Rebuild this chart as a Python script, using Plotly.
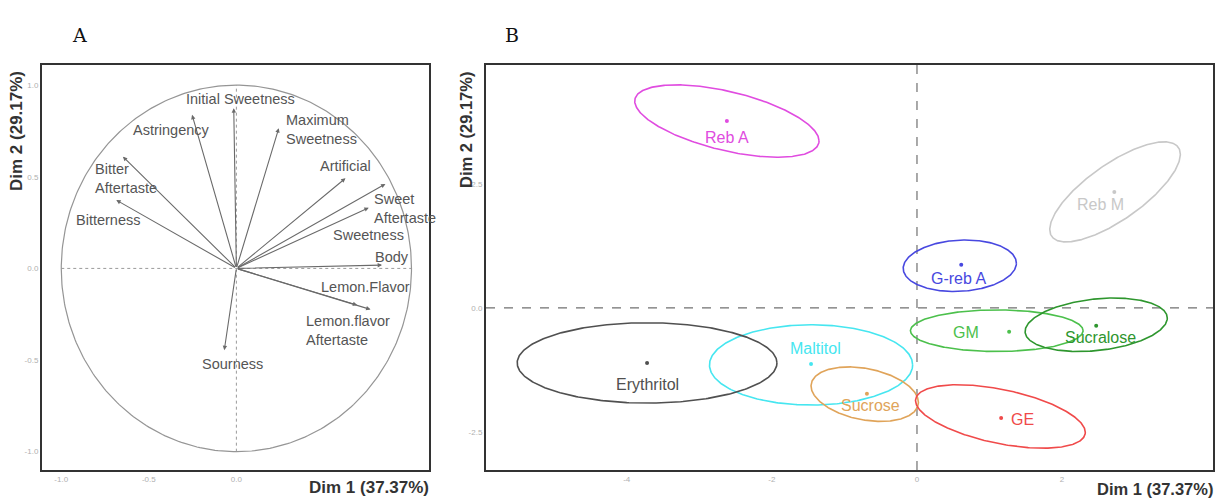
import numpy as np
import plotly.graph_objects as go

# ---------------- Data ----------------
# Panel A: variables (correlation circle)
variables = ["Initial Sweetness", "Astringency", "Maximum<br>Sweetness", "Artificial",
             "Sweet<br>Aftertaste", "Sweetness", "Body", "Lemon.Flavor",
             "Lemon.flavor<br>Aftertaste", "Sourness", "Bitter<br>Aftertaste", "Bitterness"]
dim1_var = [-0.015, -0.253, 0.242, 0.623, 0.851, 0.756, 0.832, 0.766, 0.690, -0.069, -0.648, -0.686]
dim2_var = [0.874, 0.838, 0.765, 0.492, 0.461, 0.331, 0.018, -0.224, -0.200, -0.446, 0.610, 0.373]

# Panel B: sweeteners (individuals with confidence ellipses)
sweeteners = ["Reb A", "Reb M", "G-reb A", "GM", "Sucralose", "Maltitol", "Erythritol", "Sucrose", "GE"]
dim1_ind = [-2.62, 2.72, 0.61, 1.27, 2.47, -1.46, -3.72, -0.69, 1.16]
dim2_ind = [3.77, 2.34, 0.87, -0.48, -0.36, -1.13, -1.11, -1.73, -2.22]
ell_cx = [-2.62, 2.73, 0.59, 1.10, 2.47, -1.46, -3.72, -0.72, 1.15]
ell_cy = [3.77, 2.34, 0.85, -0.46, -0.34, -1.15, -1.11, -1.74, -2.19]
ell_rx = [1.27, 0.90, 0.78, 1.19, 0.98, 1.40, 1.79, 0.74, 1.17]
ell_ry = [0.73, 1.01, 0.52, 0.42, 0.54, 0.81, 0.81, 0.55, 0.64]
ell_rho = [-0.55, 0.75, 0.10, 0.0, 0.25, 0.0, 0.0, -0.30, -0.50]

# tick labels
a_xticks = [-1.0, -0.5, 0.0]
a_xticktext = ["-1.0", "-0.5", "0.0"]
a_yticks = [1.0, 0.5, 0.0, -0.5, -1.0]
a_yticktext = ["1.0", "0.5", "0.0", "-0.5", "-1.0"]
b_xticks = [-4, -2, 0, 2]
b_xticktext = ["-4", "-2", "0", "2"]
b_yticks = [2.5, 0.0, -2.5]
b_yticktext = ["2.5", "0.0", "-2.5"]

# ---------------- Styling / layout positions ----------------
W, H = 1222, 501
colors = ["#E04CE0", "#C8C8C8", "#4848E0", "#4CC04C", "#2E962E", "#46E6F0", "#505050", "#E0A45A", "#F04A4A"]
# pixel offsets of each individual's label from its point (dx right, dy down)
b_label_shift = [(0, 16), (-14, 13), (-3, 14), (-43, 1), (4, 12), (4, -15), (0, 22), (4, 12), (21, 2)]
# label anchors for panel A (x, y, xanchor)
a_label_pos = [(0.023, 0.924, "center"), (-0.368, 0.756, "center"), (0.270, 0.758, "left"),
               (0.623, 0.559, "center"), (0.775, 0.326, "left"), (0.756, 0.182, "center"),
               (0.890, 0.064, "center"), (0.737, -0.100, "center"), (0.389, -0.341, "left"),
               (-0.025, -0.519, "center"), (-0.819, 0.490, "left"), (-0.735, 0.264, "center")]
FONT = "Liberation Sans, Arial"


def px_x(p):
    return p / W


def px_y(p):
    return (H - p) / H


fig = go.Figure()

# ----- Panel A -----
t = np.linspace(0, 2 * np.pi, 361)
fig.add_trace(go.Scatter(x=np.cos(t), y=np.sin(t), mode="lines",
                         line=dict(color="#959595", width=1.2), xaxis="x", yaxis="y",
                         hoverinfo="skip", showlegend=False))
fig.add_trace(go.Scatter(x=[-1, 1], y=[0, 0], mode="lines",
                         line=dict(color="#9a9a9a", width=1, dash="dot"), xaxis="x", yaxis="y",
                         hoverinfo="skip", showlegend=False))
fig.add_trace(go.Scatter(x=[0, 0], y=[-1, 1], mode="lines",
                         line=dict(color="#9a9a9a", width=1, dash="dot"), xaxis="x", yaxis="y",
                         hoverinfo="skip", showlegend=False))

annotations = []
for name, vx, vy, (lx, ly, anc) in zip(variables, dim1_var, dim2_var, a_label_pos):
    annotations.append(dict(x=vx, y=vy, ax=0, ay=0, xref="x", yref="y", axref="x", ayref="y",
                            showarrow=True, arrowhead=2, arrowsize=0.8, arrowwidth=1.1,
                            arrowcolor="#6a6a6a", text=""))
    annotations.append(dict(x=lx, y=ly, xref="x", yref="y", text=name, showarrow=False,
                            xanchor=anc, yanchor="middle", align="left",
                            font=dict(family=FONT, size=14.5, color="#555555")))

# ----- Panel B -----
fig.add_trace(go.Scatter(x=[-5.94, 4.08], y=[0, 0], mode="lines",
                         line=dict(color="#707070", width=1.2, dash="dash"), xaxis="x2", yaxis="y2",
                         hoverinfo="skip", showlegend=False))
fig.add_trace(go.Scatter(x=[0, 0], y=[-3.27, 4.90], mode="lines",
                         line=dict(color="#707070", width=1.2, dash="dash"), xaxis="x2", yaxis="y2",
                         hoverinfo="skip", showlegend=False))
for i in range(len(sweeteners)):
    d = np.arccos(ell_rho[i])
    ex = ell_cx[i] + ell_rx[i] * np.cos(t)
    ey = ell_cy[i] + ell_ry[i] * np.cos(t - d)
    fig.add_trace(go.Scatter(x=ex, y=ey, mode="lines", line=dict(color=colors[i], width=1.6),
                             xaxis="x2", yaxis="y2", hoverinfo="skip", showlegend=False))
    fig.add_trace(go.Scatter(x=[dim1_ind[i]], y=[dim2_ind[i]], mode="markers",
                             marker=dict(color=colors[i], size=4),
                             xaxis="x2", yaxis="y2", showlegend=False))
    dx, dy = b_label_shift[i]
    annotations.append(dict(x=dim1_ind[i], y=dim2_ind[i], xref="x2", yref="y2",
                            text=sweeteners[i], showarrow=False, xshift=dx, yshift=-dy,
                            xanchor="center", yanchor="middle",
                            font=dict(family=FONT, size=16, color=colors[i])))

# ----- Text: panel letters and axis titles -----
annotations += [
    dict(x=px_x(70), y=px_y(22), xref="paper", yref="paper", text="A", showarrow=False,
         font=dict(family="DejaVu Serif", size=19, color="#111")),
    dict(x=px_x(512), y=px_y(22), xref="paper", yref="paper", text="B", showarrow=False,
         font=dict(family="DejaVu Serif", size=19, color="#111")),
    dict(x=px_x(431), y=px_y(487), xref="paper", yref="paper", text="<b>Dim 1 (37.37%)</b>",
         showarrow=False, xanchor="right", yanchor="middle",
         font=dict(family=FONT, size=17, color="#333")),
    dict(x=px_x(1215), y=px_y(489), xref="paper", yref="paper", text="<b>Dim 1 (37.37%)</b>",
         showarrow=False, xanchor="right", yanchor="middle",
         font=dict(family=FONT, size=16.5, color="#333")),
    dict(x=px_x(16), y=px_y(131), xref="paper", yref="paper", text="<b>Dim 2 (29.17%)</b>",
         showarrow=False, textangle=-90, xanchor="center", yanchor="middle",
         font=dict(family=FONT, size=17, color="#333")),
    dict(x=px_x(466), y=px_y(130), xref="paper", yref="paper", text="<b>Dim 2 (29.17%)</b>",
         showarrow=False, textangle=-90, xanchor="center", yanchor="middle",
         font=dict(family=FONT, size=16.5, color="#333")),
]

axis_common = dict(showgrid=False, zeroline=False, showline=True, mirror=True,
                   linecolor="#333", linewidth=2, ticks="",
                   tickfont=dict(family=FONT, size=8, color="#b0b0b0"))

ydom = [px_y(470), px_y(65)]
fig.update_layout(
    width=W, height=H, margin=dict(l=0, r=0, t=0, b=0),
    paper_bgcolor="white", plot_bgcolor="white", showlegend=False,
    xaxis=dict(domain=[px_x(42), px_x(429)], range=[-1.11, 1.10], anchor="y",
               tickvals=a_xticks, ticktext=a_xticktext, **axis_common),
    yaxis=dict(domain=ydom, range=[-1.10, 1.11], anchor="x",
               tickvals=a_yticks, ticktext=a_yticktext, **axis_common),
    xaxis2=dict(domain=[px_x(486), px_x(1213)], range=[-5.94, 4.08], anchor="y2",
                tickvals=b_xticks, ticktext=b_xticktext, **axis_common),
    yaxis2=dict(domain=ydom, range=[-3.27, 4.90], anchor="x2",
                tickvals=b_yticks, ticktext=b_yticktext, **axis_common),
    annotations=annotations,
)

fig.write_html("out.html")
